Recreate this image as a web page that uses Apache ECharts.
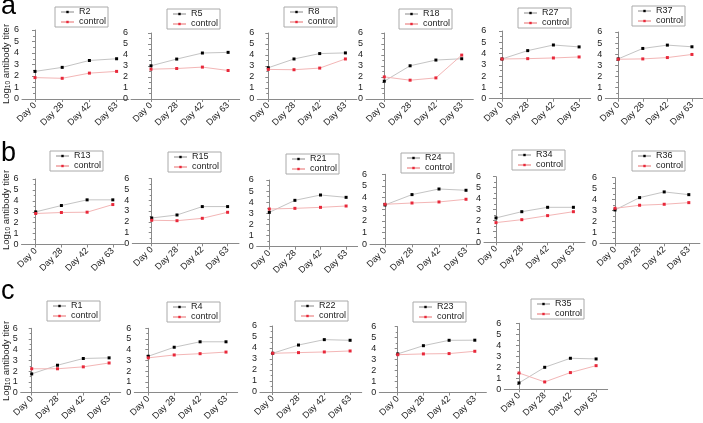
<!DOCTYPE html>
<html><head><meta charset="utf-8">
<script src="https://cdn.jsdelivr.net/npm/echarts@6/dist/echarts.min.js"></script>
<style>html,body{margin:0;padding:0;background:#fff}#c{width:703px;height:423px}</style>
</head><body><div id="c"></div>
<script>
const categories = ['Day 0', 'Day 28', 'Day 42', 'Day 63'];
const yTicks = [0, 1, 2, 3, 4, 5, 6];
const panelNames = ['R2','R5','R8','R18','R27','R37','R13','R15','R21','R24','R34','R36','R1','R4','R22','R23','R35'];
const controlName = 'control';
const rowLetters = ['a', 'b', 'c'];
const yTitleMain = 'Log';
const yTitleSub = '10';
const yTitleRest = ' antibody titer';

// immunised rabbit values
const R2 = [2.4, 2.75, 3.35, 3.5];
const R5 = [3.02, 3.63, 4.18, 4.24];
const R8 = [2.84, 3.64, 4.13, 4.19];
const R18 = [1.62, 3.02, 3.54, 3.66];
const R27 = [3.52, 4.26, 4.76, 4.59];
const R37 = [3.58, 4.52, 4.82, 4.67];
const R13 = [2.99, 3.57, 4.09, 4.09];
const R15 = [2.35, 2.63, 3.41, 3.41];
const R21 = [3.09, 4.17, 4.65, 4.44];
const R24 = [3.37, 4.26, 4.74, 4.63];
const R34 = [2.23, 2.8, 3.2, 3.2];
const R36 = [3.05, 4.18, 4.7, 4.45];
const R1 = [1.74, 2.55, 3.18, 3.24];
const R4 = [3.39, 4.23, 4.74, 4.74];
const R22 = [3.52, 4.27, 4.76, 4.7];
const R23 = [3.52, 4.27, 4.76, 4.77];
const R35 = [0.58, 2.0, 2.82, 2.76];
// matching control values
const C2 = [1.86, 1.8, 2.25, 2.4];
const C5 = [2.71, 2.77, 2.9, 2.59];
const C8 = [2.69, 2.66, 2.81, 3.64];
const C18 = [2.01, 1.71, 1.92, 3.99];
const C27 = [3.52, 3.55, 3.61, 3.7];
const C37 = [3.55, 3.58, 3.7, 3.98];
const C13 = [2.84, 2.93, 2.96, 3.66];
const C15 = [2.14, 2.1, 2.32, 2.88];
const C21 = [3.39, 3.45, 3.54, 3.66];
const C24 = [3.43, 3.54, 3.63, 3.86];
const C34 = [1.8, 2.07, 2.44, 2.8];
const C36 = [3.2, 3.48, 3.57, 3.72];
const C1 = [2.22, 2.22, 2.4, 2.76];
const C4 = [3.24, 3.51, 3.63, 3.78];
const C22 = [3.52, 3.58, 3.64, 3.73];
const C23 = [3.45, 3.52, 3.55, 3.76];
const C35 = [1.48, 0.67, 1.52, 2.15];

const rabbitValues = [R2,R5,R8,R18,R27,R37,R13,R15,R21,R24,R34,R36,R1,R4,R22,R23,R35];
const controlValues = [C2,C5,C8,C18,C27,C37,C13,C15,C21,C24,C34,C36,C1,C4,C22,C23,C35];

// layout (pixels): y-axis x, Day 0 x, category spacing, y of 6, y of 0, legend left, legend top
const layout = [
  [22, 35, 27.2, 30, 99, 55, 7],
  [131, 151, 25.7, 33, 99, 167, 9],
  [257.3, 268.3, 25.7, 33, 99, 284, 7],
  [366, 384.3, 25.8, 33, 99, 399, 9],
  [489.3, 502, 25.7, 31, 98.7, 518, 8],
  [605.3, 618.7, 25.5, 32, 98.7, 632, 6],
  [21.5, 35.7, 25.7, 179, 244.5, 50, 151],
  [132.3, 151.7, 25.3, 178.7, 243.3, 168, 152],
  [256.7, 269.3, 25.6, 180, 246.7, 286, 154],
  [370, 385, 27, 174.3, 244.3, 401, 153],
  [484, 496, 25.8, 176.7, 242.3, 512, 150],
  [600, 615, 24.6, 177.7, 243.3, 632, 151],
  [20.7, 31.7, 25.8, 328.3, 395, 47, 301],
  [134.3, 148.3, 25.9, 328.3, 395, 167, 302],
  [260, 272.7, 25.8, 326, 392, 295, 301],
  [379.3, 397.7, 25.7, 326.7, 392.7, 413, 302],
  [504.3, 519, 25.7, 323.3, 389.3, 531, 299]
];
const letterPos = [[1, 20], [1, 167], [1, 305]];
const yTitlePos = [[6, 64], [6, 210], [6, 361]];

const FONT = '"Liberation Sans", Arial, sans-serif';
const axisColor = '#8a8a8a';
const labelColor = '#222';

const grid = [], xAxis = [], yAxis = [], series = [], legend = [];
const catIdx = categories.map((c, i) => i);

panelNames.forEach((name, i) => {
  const [ax, d0, sp, top, bot, lgL, lgT] = layout[i];
  const xmin = -(d0 - ax) / sp;
  const xmax = 3.45;
  grid.push({ left: ax, top: top, width: (xmax - xmin) * sp, height: bot - top, containLabel: false });
  xAxis.push({
    type: 'value', gridIndex: i, min: xmin, max: xmax,
    axisLine: { show: true, onZero: false, lineStyle: { color: axisColor, width: 1 } },
    axisTick: { show: true, length: 3, customValues: catIdx, lineStyle: { color: axisColor } },
    axisLabel: { customValues: catIdx, rotate: 45, margin: 5, fontSize: 9, color: labelColor, fontFamily: FONT,
      formatter: v => categories[Math.round(v)] },
    splitLine: { show: false }
  });
  yAxis.push({
    type: 'value', gridIndex: i, min: yTicks[0], max: yTicks[yTicks.length - 1], interval: 1,
    axisLine: { show: true, lineStyle: { color: axisColor, width: 1 } },
    axisTick: { show: true, length: 3, lineStyle: { color: axisColor } },
    minorTick: { show: true, splitNumber: 2, length: 2, lineStyle: { color: axisColor } },
    axisLabel: { margin: 3, fontSize: 9, color: labelColor, fontFamily: FONT,
      showMinLabel: true, showMaxLabel: true, hideOverlap: false },
    splitLine: { show: false }
  });
  series.push({
    type: 'line', name: name, xAxisIndex: i, yAxisIndex: i,
    data: rabbitValues[i].map((v, k) => [catIdx[k], v]),
    symbol: 'rect', symbolSize: 3, showSymbol: true,
    lineStyle: { color: '#c4c4c4', width: 1 },
    itemStyle: { color: '#000' }, animation: false
  });
  series.push({
    type: 'line', name: controlName, xAxisIndex: i, yAxisIndex: i,
    data: controlValues[i].map((v, k) => [catIdx[k], v]),
    symbol: 'rect', symbolSize: 3, showSymbol: true,
    lineStyle: { color: '#f3b6b6', width: 1 },
    itemStyle: { color: '#e8283a' }, animation: false
  });
  legend.push({
    left: lgL, top: lgT, orient: 'vertical', data: [name, controlName],
    itemWidth: 13, itemHeight: 3, itemGap: 0, padding: [0, 2, 0, 5],
    borderColor: '#aaa', borderWidth: 1, selectedMode: false,
    textStyle: { fontSize: 9, color: labelColor, fontFamily: FONT, lineHeight: 10 }
  });
});

const graphic = [];
rowLetters.forEach((l, r) => {
  graphic.push({ type: 'text', x: letterPos[r][0], y: letterPos[r][1],
    style: { text: l, font: '27px ' + FONT, fill: '#000', textAlign: 'left', textVerticalAlign: 'bottom' } });
  graphic.push({ type: 'text', x: yTitlePos[r][0], y: yTitlePos[r][1], rotation: Math.PI / 2,
    style: {
      text: '{m|' + yTitleMain + '}{s|' + yTitleSub + '}{m|' + yTitleRest + '}',
      align: 'center', verticalAlign: 'middle',
      rich: {
        m: { fontSize: 9.5, fontFamily: FONT, fill: '#222', lineHeight: 12, verticalAlign: 'middle' },
        s: { fontSize: 6.5, fontFamily: FONT, fill: '#222', lineHeight: 6, verticalAlign: 'bottom' }
      }
    } });
});

const chart = echarts.init(document.getElementById('c'), null, { renderer: 'canvas' });
chart.setOption({ animation: false, backgroundColor: '#fff', grid, xAxis, yAxis, series, legend, graphic });
</script>
</body></html>
